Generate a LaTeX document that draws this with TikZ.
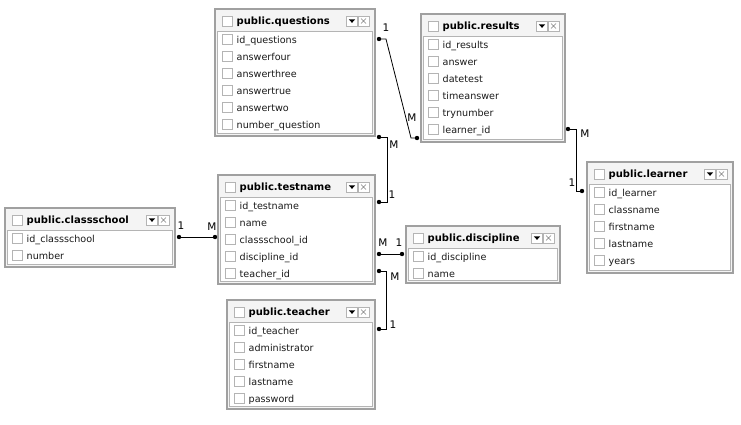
\documentclass[tikz,border=0pt]{standalone}
\usepackage{fontspec}
\setmainfont{DejaVu Sans}
\usetikzlibrary{fit,calc}
\definecolor{frm}{HTML}{A0A0A0}
\definecolor{pnl}{HTML}{B4B4B4}
\definecolor{frmfill}{HTML}{F4F4F4}
\definecolor{txt}{HTML}{1A1A1A}
\tikzset{
  tframe/.style={draw=frm, fill=frmfill, inner sep=0pt, line width=1.1pt},
  bodybox/.style={draw=pnl, fill=white, line width=0.8pt},
  cbox/.style={draw=pnl, fill=white, minimum width=10pt, minimum height=10pt, inner sep=0pt, line width=0.7pt},
  ibox/.style={draw=pnl, fill=white, minimum width=11pt, minimum height=10pt, inner sep=0pt, line width=0.7pt},
  ttl/.style={font=\fontsize{10}{12}\selectfont\bfseries, text=black, inner sep=0pt, text height=7.5pt, text depth=2pt},
  rowt/.style={font=\fontsize{9.6}{11}\selectfont, text=txt, inner sep=0pt, text height=7.5pt, text depth=2pt},
  rdot/.style={circle, fill=black, inner sep=0pt, minimum size=4.4pt},
  rel/.style={draw=black, line width=0.8pt},
  card/.style={font=\fontsize{10.5}{12}\selectfont, text=black, inner sep=0pt}
}
% name, left, top, right, bottom, title, rows
\newcommand\dbtab[7]{%
  \node[tframe, fit={(#2,#3) (#4,#5)}] (#1) {};
  \draw[bodybox] (#2+2.5,#3+22) rectangle (#4-2.5,#5-2.5);
  \node[cbox] (#1-hc) at (#2+12,#3+12) {};
  \node[ttl, anchor=base west] (#1-t) at (#2+21.5,#3+15.5) {#6};
  \node[ibox] (#1-dd) at (#4-23,#3+12) {};
  \fill[black] ($(#1-dd.center)+(-3.2,-1.6)$) -- ++(6.4,0) -- ++(-3.2,3.4) -- cycle;
  \node[ibox] (#1-x) at (#4-11.5,#3+12) {};
  \draw[gray, line width=0.6pt] ($(#1-x.center)+(-2.5,-2.5)$) -- ++(5,5) ($(#1-x.center)+(2.5,-2.5)$) -- ++(-5,5);
  \foreach \r [count=\i] in {#7} {
    \node[cbox] (#1-c\i) at (#2+12, #3+13.5+17*\i) {};
    \node[rowt, anchor=base west] (#1-\i) at (#2+21.5, #3+17+17*\i) {\r};
  }
}
\begin{document}
\begin{tikzpicture}[x=1pt,y=-1pt]
\useasboundingbox[fill=white] (0,0) rectangle (741,424);

\dbtab{q}{215}{9}{375}{136}{public.questions}{id\_questions,answerfour,answerthree,answertrue,answertwo,number\_question}
\dbtab{r}{421}{14}{565}{142}{public.results}{id\_results,answer,datetest,timeanswer,trynumber,learner\_id}
\dbtab{c}{5}{208}{175}{267}{public.classschool}{id\_classschool,number}
\dbtab{t}{218}{175}{375}{284}{public.testname}{id\_testname,name,classschool\_id,discipline\_id,teacher\_id}
\dbtab{d}{406}{226}{560}{283}{public.discipline}{id\_discipline,name}
\dbtab{l}{587}{162}{733}{273}{public.learner}{id\_learner,classname,firstname,lastname,years}
\dbtab{te}{227}{300}{375}{409}{public.teacher}{id\_teacher,administrator,firstname,lastname,password}

% relation end points
\node[rdot] (qd1) at (379,39) {};
\node[rdot] (rd1) at (417,138) {};
\node[rdot] (qd2) at (379,137) {};
\node[rdot] (td1) at (379,202) {};
\node[rdot] (rd2) at (568,129) {};
\node[rdot] (ld1) at (582,191) {};
\node[rdot] (cd1) at (179,237) {};
\node[rdot] (tdc) at (215,237) {};
\node[rdot] (td2) at (379,254) {};
\node[rdot] (dd1) at (402,254) {};
\node[rdot] (td3) at (379,271) {};
\node[rdot] (ted1) at (379,329) {};

% relations
\draw[rel] (qd1.center) -- ++(7,0) -- ($(rd1.center)+(-6,0)$) -- (rd1.center);
\draw[rel] (qd2.center) -- ++(8,0) |- (td1.center);
\draw[rel] (rd2.center) -- ++(8,0) |- (ld1.center);
\draw[rel] (cd1.center) -- (tdc.center);
\draw[rel] (td2.center) -- (dd1.center);
\draw[rel] (td3.center) -- ++(7,0) |- (ted1.center);

% cardinalities
\node[card] (k1) at (386,28) {1};
\node[card] (k2) at (412,118) {M};
\node[card] (k3) at (394,145) {M};
\node[card] (k4) at (392,195) {1};
\node[card] (k5) at (585,134) {M};
\node[card] (k6) at (572,183) {1};
\node[card] (k7) at (181,226) {1};
\node[card] (k8) at (212,227) {M};
\node[card] (k9) at (383,243) {M};
\node[card] (k10) at (399,243) {1};
\node[card] (k11) at (395,277) {M};
\node[card] (k12) at (393,325) {1};
\end{tikzpicture}
\end{document}
